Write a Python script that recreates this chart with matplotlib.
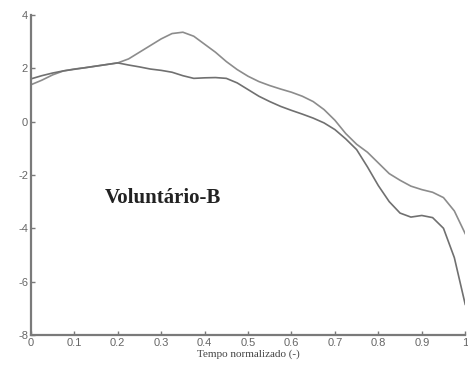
import matplotlib
matplotlib.use("Agg")
import matplotlib.pyplot as plt
import numpy as np

plt.rcParams["axes.unicode_minus"] = False

# normalized time
t = [0.0, 0.025, 0.05, 0.075, 0.1, 0.125, 0.15, 0.175, 0.2, 0.225, 0.25, 0.275,
     0.3, 0.325, 0.35, 0.375, 0.4, 0.425, 0.45, 0.475, 0.5, 0.525, 0.55, 0.575,
     0.6, 0.625, 0.65, 0.675, 0.7, 0.725, 0.75, 0.775, 0.8, 0.825, 0.85, 0.875,
     0.9, 0.925, 0.95, 0.975, 1.0]

# curve with the hump near t=0.35
curve_a = [1.38, 1.55, 1.75, 1.9, 1.97, 2.02, 2.08, 2.14, 2.2, 2.35, 2.6, 2.85,
           3.1, 3.3, 3.35, 3.2, 2.9, 2.6, 2.25, 1.95, 1.7, 1.5, 1.35, 1.22,
           1.1, 0.95, 0.75, 0.45, 0.05, -0.45, -0.85, -1.15, -1.55, -1.95, -2.2, -2.42,
           -2.55, -2.65, -2.85, -3.35, -4.2]

# lower curve
curve_b = [1.6, 1.72, 1.82, 1.9, 1.96, 2.02, 2.08, 2.14, 2.2, 2.12, 2.05, 1.97,
           1.92, 1.85, 1.72, 1.62, 1.64, 1.65, 1.62, 1.45, 1.2, 0.95, 0.75, 0.57,
           0.42, 0.28, 0.13, -0.05, -0.3, -0.65, -1.05, -1.7, -2.4, -3.0, -3.43, -3.58,
           -3.52, -3.6, -4.0, -5.1, -6.85]

x_ticks = [0, 0.1, 0.2, 0.3, 0.4, 0.5, 0.6, 0.7, 0.8, 0.9, 1]
x_labels = ["0", "0.1", "0.2", "0.3", "0.4", "0.5", "0.6", "0.7", "0.8", "0.9", "1"]
y_ticks = [-8, -6, -4, -2, 0, 2, 4]

gray = "#7a7a7a"

fig = plt.figure(figsize=(4.68, 3.72), dpi=100)
ax = fig.add_axes([0.066, 0.0995, 0.928, 0.8605])

ax.plot(t, curve_a, color="#8c8c8c", lw=1.2, solid_joinstyle="round")
ax.plot(t, curve_b, color="#707070", lw=1.2, solid_joinstyle="round")

ax.set_xlim(0, 1)
ax.set_ylim(-8, 4)
ax.set_xticks(x_ticks)
ax.set_xticklabels(x_labels)
ax.set_yticks(y_ticks)

for side in ("top", "right"):
    ax.spines[side].set_visible(False)
for side in ("left", "bottom"):
    ax.spines[side].set_color(gray)
    ax.spines[side].set_linewidth(1.6)

ax.tick_params(direction="in", length=3, width=1, color=gray, labelcolor="#666666",
               labelsize=8, pad=2)
for lab in ax.get_xticklabels() + ax.get_yticklabels():
    lab.set_family("Liberation Sans")

ax.set_xlabel("Tempo normalizado (-)", family="Liberation Serif", fontsize=8,
              color="#444444", labelpad=1)

ax.text(0.17, -2.85, "Voluntário-B", family="Liberation Serif", fontweight="bold",
        fontsize=15, color="#222222", va="center", ha="left")

fig.savefig("out.png", dpi=100)
